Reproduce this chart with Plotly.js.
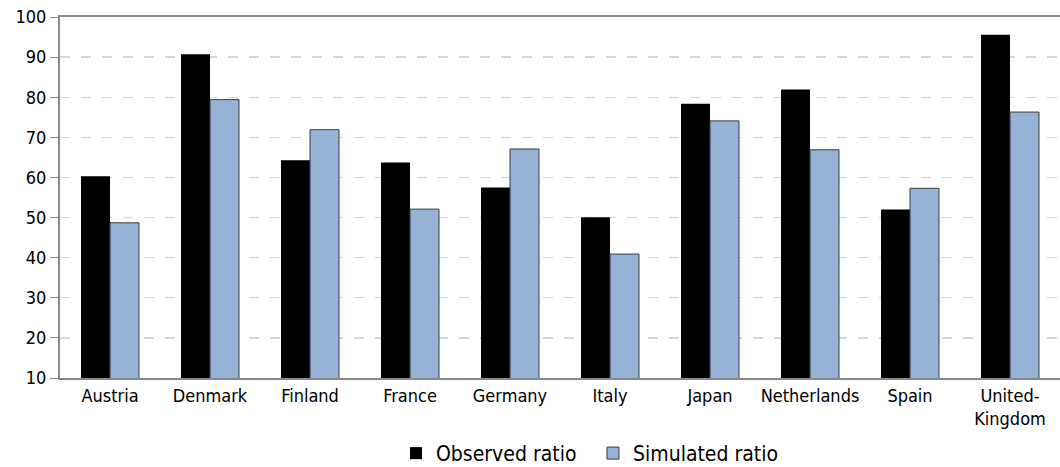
<!DOCTYPE html>
<html>
<head>
<meta charset="utf-8">
<script src="https://cdn.plot.ly/plotly-3.0.1.min.js"></script>
<style>html,body{margin:0;padding:0;background:#fff}#chart{width:1060px;height:467px}</style>
</head>
<body>
<div id="chart"></div>
<script>
const categories = ["Austria","Denmark","Finland","France","Germany","Italy","Japan","Netherlands","Spain","United-<br>Kingdom"];
const observed = [60.3, 90.7, 64.3, 63.7, 57.5, 50.1, 78.4, 81.9, 52.0, 95.6];
const simulated = [48.7, 79.4, 71.9, 52.1, 67.1, 40.9, 74.1, 66.9, 57.3, 76.3];
const yTicks = [10,20,30,40,50,60,70,80,90,100];

const FONT = '"DejaVu Sans Condensed", "Liberation Sans Narrow", "DejaVu Sans", sans-serif';

const traces = [
  {type:'bar', name:'Observed ratio', x:categories, y:observed,
   marker:{color:'#000000', line:{color:'#000000', width:0}}},
  {type:'bar', name:'Simulated ratio', x:categories, y:simulated,
   marker:{color:'#95b3d7', line:{color:'#3a3a3a', width:1}}}
];

const layout = {
  width:1060, height:467,
  margin:{l:60, r:0, t:17, b:89},
  paper_bgcolor:'#fff', plot_bgcolor:'#fff',
  barmode:'group', bargap:0.42, bargroupgap:0,
  font:{family:FONT, color:'#000', size:18},
  showlegend:true,
  legend:{orientation:'h', x:0.336, xanchor:'left', xref:'paper',
          y:0.029, yanchor:'middle', yref:'container',
          font:{size:21, family:FONT}, itemwidth:30, entrywidth:152, entrywidthmode:'pixels',
          tracegroupgap:0},
  xaxis:{type:'category', showline:true, linecolor:'#888', linewidth:2, mirror:true,
         ticks:'', showgrid:false, tickfont:{size:18}, automargin:false},
  yaxis:{range:[10,100], tickvals:yTicks, showline:true, linecolor:'#888', linewidth:2,
         ticks:'outside', ticklen:8, tickcolor:'#888', tickwidth:1,
         showgrid:true, gridcolor:'#d6d6d6', gridwidth:1.3, griddash:'10px,11px',
         zeroline:false, tickfont:{size:18}, automargin:false}
};

Plotly.newPlot('chart', traces, layout, {displayModeBar:false, staticPlot:true});
</script>
</body>
</html>
